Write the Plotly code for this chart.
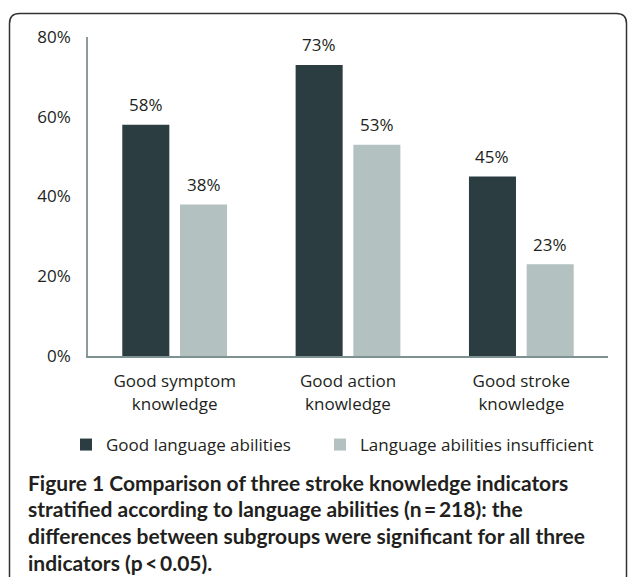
import plotly.graph_objects as go

W, H = 628, 577

categories = ["Good symptom<br>knowledge", "Good action<br>knowledge", "Good stroke<br>knowledge"]
series_names = ["Good language abilities", "Language abilities insufficient"]
good_values = [58, 73, 45]
insufficient_values = [38, 53, 23]
series_values = [good_values, insufficient_values]
colors = ["#2b3d40", "#b3c1c0"]
y_ticks = [0, 20, 40, 60, 80]
caption_lines = [
    "Figure 1 Comparison of three stroke knowledge indicators",
    "stratified according to language abilities (n\u2009=\u2009218): the",
    "differences between subgroups were significant for all three",
    "indicators (p\u2009<\u20090.05).",
]

BARGAP = 0.334
BARGROUPGAP = 0.185
TEXT = "#231f20"
FONT = "Open Sans"
FS = 17
legend_ids = ["legend", "legend2"]
legend_left_px = [66, 320]

def px_x(p):
    return p / W

def px_y(p):
    return (H - p) / H

fig = go.Figure()
for name, vals, col, lg in zip(series_names, series_values, colors, legend_ids):
    fig.add_trace(go.Bar(
        x=categories, y=vals, name=name, legend=lg,
        marker=dict(color=col, line=dict(width=0)),
        hoverinfo="skip",
    ))

annotations = []
slot = (1 - BARGAP) / len(series_values)
for j, vals in enumerate(series_values):
    for i, v in enumerate(vals):
        annotations.append(dict(
            x=i + (j - (len(series_values) - 1) / 2) * slot, y=v,
            xref="x", yref="y", text=f"{v}%", showarrow=False,
            yanchor="middle", yshift=20,
            font=dict(family=FONT, size=FS, color=TEXT),
        ))

for k, line in enumerate(caption_lines):
    annotations.append(dict(
        x=px_x(26), y=px_y(482 + k * 26.7), xref="paper", yref="paper",
        xanchor="left", yanchor="middle", text="<b>" + line + "</b>", showarrow=False,
        font=dict(family="Lato", size=21, color=TEXT),
    ))

r = 10
x0, x1, yt, yb = 9.5, 626.5, 13.5, 600
path = (f"M {px_x(x0)},{px_y(yb)} L {px_x(x0)},{px_y(yt + r)} "
        f"Q {px_x(x0)},{px_y(yt)} {px_x(x0 + r)},{px_y(yt)} "
        f"L {px_x(x1 - r)},{px_y(yt)} Q {px_x(x1)},{px_y(yt)} {px_x(x1)},{px_y(yt + r)} "
        f"L {px_x(x1)},{px_y(yb)}")

legend_common = dict(
    orientation="h", y=px_y(445), xanchor="left", yanchor="middle",
    font=dict(family=FONT, size=FS, color=TEXT),
    itemclick=False, itemdoubleclick=False, bgcolor="rgba(0,0,0,0)",
)

fig.update_layout(
    width=W, height=H,
    margin=dict(l=0, r=0, t=0, b=0, pad=0, autoexpand=False),
    paper_bgcolor="white", plot_bgcolor="white",
    barmode="group", bargap=BARGAP, bargroupgap=BARGROUPGAP,
    font=dict(family=FONT, size=FS, color=TEXT),
    showlegend=True,
    legend=dict(x=px_x(legend_left_px[0]), **legend_common),
    legend2=dict(x=px_x(legend_left_px[1]), **legend_common),
    xaxis=dict(
        domain=[px_x(88), px_x(608)],
        showline=True, linecolor="#7f9292", linewidth=2,
        showgrid=False, ticks="", ticklabelstandoff=9,
        tickfont=dict(family=FONT, size=FS, color=TEXT),
        fixedrange=True,
    ),
    yaxis=dict(
        domain=[px_y(356), px_y(37)], range=[0, 80],
        tickvals=y_ticks, ticktext=[f"{t}%" for t in y_ticks],
        showline=True, linecolor="#8c9c9c", linewidth=1.5,
        showgrid=False, zeroline=False, ticks="", ticklabelstandoff=12,
        tickfont=dict(family=FONT, size=FS, color=TEXT),
        fixedrange=True,
    ),
    annotations=annotations,
    shapes=[dict(type="path", path=path, xref="paper", yref="paper",
                 line=dict(color="#333333", width=1.5))],
)

fig.write_html("out.html")
